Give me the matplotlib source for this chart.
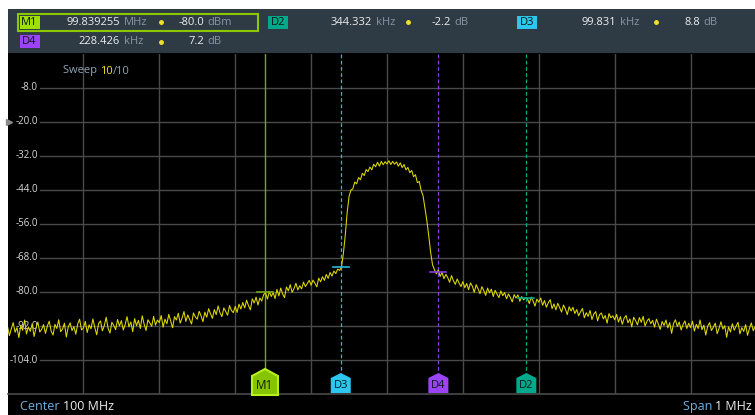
import numpy as np
import matplotlib
matplotlib.use("Agg")
import matplotlib.pyplot as plt
from matplotlib.patches import Rectangle, Polygon

plt.rcParams['font.family'] = ['Open Sans', 'DejaVu Sans']

# ---------------- data ----------------
center_mhz = 100.0
span_mhz = 1.0
ref_top = 4.0
db_per_div = 12.0
n_div = 10
ytick_values = [-8.0, -20.0, -32.0, -44.0, -56.0, -68.0, -80.0, -92.0, -104.0]

trace_step_khz = 2.5
trace_db = [
    -92.1, -95.4, -93.0, -90.8, -94.2, -92.6, -96.1, -91.7, -93.5, -89.9, -94.8, -92.3, -93.9, -91.2, -95.7, -92.8, -90.6, -94.1, -93.2, -91.5,
    -94.6, -92.0, -90.3, -93.8, -95.2, -91.4, -92.9, -89.8, -94.0, -93.1, -91.0, -95.9, -92.4, -90.9, -93.6, -92.2, -94.9, -91.3, -89.6, -93.4,
    -92.7, -90.4, -94.3, -91.6, -93.0, -89.5, -92.5, -95.1, -91.1, -90.2, -93.7, -91.9, -88.9, -92.8, -94.5, -90.7, -91.8, -93.3, -89.7, -92.0,
    -90.1, -93.4, -91.5, -88.7, -92.3, -90.6, -94.0, -89.4, -91.9, -90.0, -92.9, -88.4, -91.3, -93.6, -89.8, -90.9, -92.1, -88.6, -91.7, -89.9,
    -90.8, -88.3, -92.4, -89.6, -91.2, -87.9, -90.3, -92.6, -88.7, -89.9, -87.5, -91.0, -89.2, -86.9, -90.4, -88.1, -89.7, -91.3, -87.4, -88.8,
    -89.6, -86.8, -88.4, -90.5, -87.1, -88.9, -85.9, -87.7, -89.3, -86.2, -88.0, -84.9, -87.4, -88.7, -85.6, -86.9, -88.2, -84.8, -86.5, -87.3,
    -85.1, -87.2, -84.3, -86.0, -83.7, -85.6, -82.9, -84.8, -86.3, -82.4, -83.9, -81.8, -84.6, -82.1, -83.2, -80.9, -80.3, -82.5, -79.8, -81.6,
    -80.2, -82.3, -79.1, -81.4, -78.6, -80.7, -82.0, -78.2, -79.6, -77.4, -80.1, -78.8, -76.9, -79.3, -77.8, -78.9, -76.5, -78.1, -77.0, -75.9,
    -77.6, -75.8, -76.9, -78.2, -75.1, -76.4, -74.6, -75.9, -73.8, -75.2, -73.1, -74.4, -72.6, -73.5, -71.9, -72.4, -71.2, -66.5, -60.0, -52.0,
    -46.3, -44.0, -43.6, -41.2, -41.8, -39.6, -40.4, -38.1, -38.9, -36.8, -37.5, -35.9, -36.9, -34.9, -35.8, -34.2, -35.6, -33.9, -35.1, -34.0,
    -34.8, -33.7, -35.0, -33.9, -34.9, -34.1, -35.6, -34.4, -36.1, -35.0, -36.9, -36.0, -37.9, -37.1, -39.3, -38.6, -41.4, -41.0, -44.2, -46.0,
    -50.5, -54.8, -60.2, -66.0, -70.4, -72.1, -73.6, -72.2, -74.5, -73.1, -75.3, -73.8, -74.9, -76.6, -74.2, -76.0, -77.3, -75.4, -76.9, -78.1,
    -76.3, -78.5, -77.0, -79.2, -76.8, -78.0, -80.1, -77.4, -78.9, -80.6, -78.1, -79.5, -81.2, -78.6, -80.3, -79.0, -81.6, -79.4, -80.8, -82.0,
    -79.6, -81.3, -80.2, -82.4, -80.7, -81.9, -83.5, -80.9, -82.1, -81.0, -83.3, -81.6, -82.8, -82.0, -82.3, -84.1, -81.8, -83.2, -85.0, -82.5,
    -83.6, -82.1, -84.7, -83.0, -85.4, -83.8, -82.7, -85.9, -84.2, -86.3, -84.0, -85.5, -87.1, -84.6, -86.0, -88.0, -85.2, -86.7, -85.4, -87.6,
    -86.2, -88.4, -87.0, -85.8, -89.1, -87.3, -88.6, -86.5, -89.7, -87.8, -86.9, -90.2, -88.0, -87.4, -89.5, -88.3, -91.0, -87.6, -89.1, -88.4,
    -89.8, -87.9, -90.6, -88.7, -91.4, -89.2, -88.3, -90.9, -89.5, -92.3, -88.9, -90.1, -91.6, -89.0, -90.7, -88.6, -92.0, -90.3, -89.4, -91.2,
    -90.0, -92.4, -89.6, -91.3, -93.2, -90.4, -91.8, -89.9, -92.7, -90.8, -94.6, -91.1, -89.8, -92.2, -90.6, -93.4, -91.5, -90.2, -92.9, -91.0,
    -92.6, -90.3, -93.8, -91.4, -92.9, -89.9, -93.3, -91.7, -95.2, -92.1, -90.8, -93.6, -92.4, -91.0, -94.7, -92.8, -90.5, -93.1, -91.9, -96.0,
    -92.3, -94.1, -91.2, -93.5, -92.0, -90.7, -94.8, -92.6, -93.9, -91.5, -95.3, -92.9, -90.9, -93.7, -92.2, -94.4, -91.6, -93.0, -95.6, -92.5,
    -93.4,
]

m1_freq_mhz = 99.839255
m1_level_dbm = -80.0
delta_names = ['D2', 'D3', 'D4']
delta_khz = [344.332, 99.831, 228.426]
delta_db = [-2.2, 8.8, 7.2]

sweep_done = 10
sweep_total = 10

# ---------------- colours ----------------
trace_col = '#e0da00'
grid_col = '#4a4a4a'
hdr_bg = '#2e3a44'
txt_white = '#eeeeee'
txt_unit = '#8797a2'
dot_col = '#f2e12a'
tag_cols = {'M1': '#9ee000', 'D2': '#00a88c', 'D3': '#2cc6ee', 'D4': '#9b44f5'}
line_cols = {'M1': '#78a61a', 'D2': '#0aa68a', 'D3': '#2ab8d8', 'D4': '#8a3ee0'}

W, H = 755, 415
fig = plt.figure(figsize=(W / 100, H / 100), dpi=100, facecolor='white')

# background / decoration axes in pixel coordinates
bg = fig.add_axes([0, 0, 1, 1])
bg.set_xlim(0, W)
bg.set_ylim(H, 0)
bg.axis('off')
bg.add_patch(Rectangle((8, 53), W - 8, H - 53, facecolor='black', edgecolor='none', zorder=0))
bg.add_patch(Rectangle((8, 9), W - 8, 44, facecolor=hdr_bg, edgecolor='none', zorder=0))

# plot axes
px_left, px_right, px_top, px_bot = 7.5, 766.5, 54.0, 394.0
ax = fig.add_axes([px_left / W, (H - px_bot) / H, (px_right - px_left) / W, (px_bot - px_top) / H])
ax.set_facecolor('none')
ax.set_zorder(2)
half = span_mhz * 1000 / 2
ax.set_xlim(-half, half)
ybot = ref_top - db_per_div * n_div
ax.set_ylim(ybot, ref_top)
for s in ax.spines.values():
    s.set_visible(False)
ax.set_xticks([])
ax.set_yticks([])

# grid
for k in range(1, n_div):
    ax.axvline(-half + k * span_mhz * 1000 / n_div, color=grid_col, lw=1, zorder=1)
xmin_frac = (40 - px_left) / (px_right - px_left)
for yv in ytick_values:
    ax.axhline(yv, xmin=xmin_frac, xmax=1, color=grid_col, lw=1, zorder=1)
ax.axhline(ybot, color=grid_col, lw=1.2, zorder=1, clip_on=False)

ytr = ax.get_yaxis_transform()
lab_x = (38 - px_left) / (px_right - px_left)
for yv in ytick_values:
    ax.text(lab_x, yv, f"{yv:.1f}", transform=ytr, ha='right', va='center',
            color='#dcdcdc', fontsize=7, zorder=1)

# ref level triangle
ax.plot([0.002], [-20.0], marker='>', color='#8a8a8a', markersize=4, transform=ytr,
        clip_on=False, zorder=3)

# sweep text
tx = (63 - px_left) / (px_right - px_left)
t1 = ax.text(tx, 0.95, "Sweep ", transform=ax.transAxes, color='#8fa6b6', fontsize=8,
             ha='left', va='center')
t2 = ax.annotate(f"{sweep_done}", xy=(1, 0.5), xycoords=t1, color=dot_col, fontsize=8,
                 ha='left', va='center')
t3 = ax.annotate(f"/{sweep_total}", xy=(1, 0.5), xycoords=t2, color='#8fa6b6', fontsize=8,
                 ha='left', va='center')

# trace
freqs = -half + np.arange(len(trace_db)) * trace_step_khz
ax.plot(freqs, trace_db, color=trace_col, lw=0.75, zorder=4)

# markers
kpp = (2 * half) / (px_right - px_left)
dpp = (ref_top - ybot) / (px_bot - px_top)


def ypx(p):
    return ref_top - (p - px_top) * dpp


m1_x = (m1_freq_mhz - center_mhz) * 1000
marks = [('M1', m1_x, m1_level_dbm)]
for n, dk, dd in zip(delta_names, delta_khz, delta_db):
    marks.append((n, m1_x + dk, m1_level_dbm + dd))

for name, fx, lv in marks:
    c = line_cols[name]
    if name == 'M1':
        ax.plot([fx, fx], [ref_top, ypx(369)], color=c, lw=1.0, zorder=3)
        w = 13
        pts = [(fx - w * kpp, ypx(395)), (fx + w * kpp, ypx(395)), (fx + w * kpp, ypx(376)),
               (fx, ypx(369)), (fx - w * kpp, ypx(376))]
        ax.add_patch(Polygon(pts, closed=True, facecolor='#86c400', edgecolor='#b8f01a',
                             lw=1.5, zorder=5, clip_on=False))
        ax.text(fx, ypx(385), name, ha='center', va='center', fontsize=8.5, color='#101a00', zorder=6)
    else:
        ax.plot([fx, fx], [ref_top, ypx(373)], color=c, lw=0.9, ls=(0, (3, 2)), zorder=3)
        w = 10
        pts = [(fx - w * kpp, ypx(393)), (fx + w * kpp, ypx(393)), (fx + w * kpp, ypx(378)),
               (fx, ypx(373)), (fx - w * kpp, ypx(378))]
        ax.add_patch(Polygon(pts, closed=True, facecolor=tag_cols[name], edgecolor='none',
                             zorder=5, clip_on=False))
        ax.text(fx, ypx(385.5), name, ha='center', va='center', fontsize=8, color='#0a1a1a', zorder=6)
    # level tick
    ax.plot([fx - 8 * kpp, fx + 8 * kpp], [lv, lv], color=c, lw=1.2, zorder=5)

# ---------------- header ----------------
fs = 8


def tag(x0, x1, yc, name):
    bg.add_patch(Rectangle((x0, yc - 6.5), x1 - x0, 13, facecolor=tag_cols[name],
                           edgecolor='none', zorder=2))
    bg.text((x0 + x1) / 2, yc, name, ha='center', va='center', fontsize=fs,
            color='#0c160c', zorder=3)


def block(xtag, vx, dotx, lx, yc, name, val, vunit, lev, lunit):
    tag(xtag, xtag + 20, yc, name)
    bg.text(vx, yc, val, ha='right', va='center', fontsize=fs, color=txt_white, zorder=3)
    bg.text(vx + 4, yc, vunit, ha='left', va='center', fontsize=fs, color=txt_unit, zorder=3)
    bg.plot([dotx], [yc], marker='o', markersize=2.5, color=dot_col, zorder=3)
    bg.text(lx, yc, lev, ha='right', va='center', fontsize=fs, color=txt_white, zorder=3)
    bg.text(lx + 3, yc, lunit, ha='left', va='center', fontsize=fs, color=txt_unit, zorder=3)


r1, r2 = 22.5, 42.0
bg.add_patch(Rectangle((18, 14), 240, 17, facecolor='none', edgecolor='#8dc700', lw=1.5, zorder=3))
block(19.5, 120, 161, 204, r1, 'M1', f"{m1_freq_mhz:.6f}", 'MHz', f"{m1_level_dbm:.1f}", 'dBm')
hdr_pos = {'D2': (268, 372, 408, 451, r1), 'D3': (517, 616, 656, 700, r1),
           'D4': (19.5, 120, 161, 204, r2)}
for n, dk, dd in zip(delta_names, delta_khz, delta_db):
    xt, vx, dx, lx, yc = hdr_pos[n]
    block(xt, vx, dx, lx, yc, n, f"{dk:.3f}", 'kHz', f"{dd:.1f}", 'dB')

# ---------------- footer ----------------
c1 = bg.text(20, 406, "Center ", ha='left', va='center', fontsize=9, color='#6fb2e2')
bg.annotate(f"{center_mhz:g} MHz", xy=(1, 0.5), xycoords=c1, ha='left', va='center',
            fontsize=9, color=txt_white)
s2 = bg.text(752, 406, f"{span_mhz:g} MHz", ha='right', va='center', fontsize=9, color=txt_white)
bg.annotate("Span ", xy=(0, 0.5), xycoords=s2, ha='right', va='center', fontsize=9, color='#6fb2e2')

fig.savefig('out.png', dpi=100, facecolor='white')
